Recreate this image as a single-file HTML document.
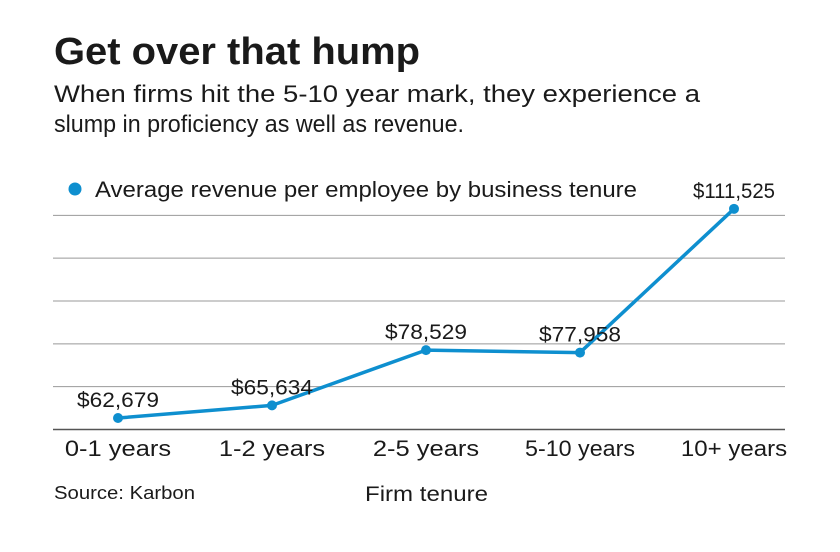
<!DOCTYPE html>
<html><head><meta charset="utf-8"><style>
body{margin:0;background:#fff;}
svg text{font-family:"Liberation Sans",sans-serif;fill:#1a1a1a;}
</style></head><body>
<svg width="840" height="547" viewBox="0 0 840 547">
<text x="54" y="64" font-size="38" font-weight="bold" textLength="366" lengthAdjust="spacingAndGlyphs">Get over that hump</text>
<text x="54" y="102" font-size="24" textLength="646" lengthAdjust="spacingAndGlyphs">When firms hit the 5-10 year mark, they experience a</text>
<text x="54" y="132" font-size="24" textLength="410" lengthAdjust="spacingAndGlyphs">slump in proficiency as well as revenue.</text>
<circle cx="75" cy="189" r="6.5" fill="#0e8fcf"/>
<text x="95" y="197" font-size="22" textLength="542" lengthAdjust="spacingAndGlyphs">Average revenue per employee by business tenure</text>
<g id="grid"></g>
<g id="marks"></g>
<text x="54" y="499" font-size="18" textLength="141" lengthAdjust="spacingAndGlyphs">Source: Karbon</text>
<text x="365" y="501" font-size="21" textLength="123" lengthAdjust="spacingAndGlyphs">Firm tenure</text>
</svg>
<script>
const categories=["0-1 years","1-2 years","2-5 years","5-10 years","10+ years"];
const values=[62679,65634,78529,77958,111525];
const labels=["$62,679","$65,634","$78,529","$77,958","$111,525"];
const gridTicks=[60000,70000,80000,90000,100000,110000];
const NS="http://www.w3.org/2000/svg";
const y=v=>429.5-(v-60000)*0.004283;
const x=i=>118+i*154;
const grid=document.getElementById('grid'),marks=document.getElementById('marks');
function mk(tag,attrs,parent){const e=document.createElementNS(NS,tag);for(const k in attrs)e.setAttribute(k,attrs[k]);parent.appendChild(e);return e;}
gridTicks.forEach((t,i)=>{
 const l=mk('line',{x1:53,x2:785,y1:y(t),y2:y(t),stroke:i===0?'#555':'#999','stroke-width':i===0?1.5:1},grid);
 
 
});
const pts=values.map((v,i)=>x(i)+','+y(v)).join(' ');
const pl=mk('polyline',{points:pts,fill:'none',stroke:'#0e8fcf','stroke-width':3.5,'stroke-linejoin':'round'},marks);


values.forEach((v,i)=>{
 const c=mk('circle',{cx:x(i),cy:y(v),r:5,fill:'#0e8fcf'},marks);
 
 
 const t=mk('text',{x:x(i),y:y(v)-11,'font-size':21,'text-anchor':'middle',textLength:82,lengthAdjust:'spacingAndGlyphs'},marks);
 t.textContent=labels[i];
 
 
 const c2=mk('text',{x:x(i),y:456,'font-size':22,'text-anchor':'middle',textLength:Math.min(categories[i].length*11.8,110),lengthAdjust:'spacingAndGlyphs'},marks);
 c2.textContent=categories[i];
 
 
});
</script>
</body></html>
